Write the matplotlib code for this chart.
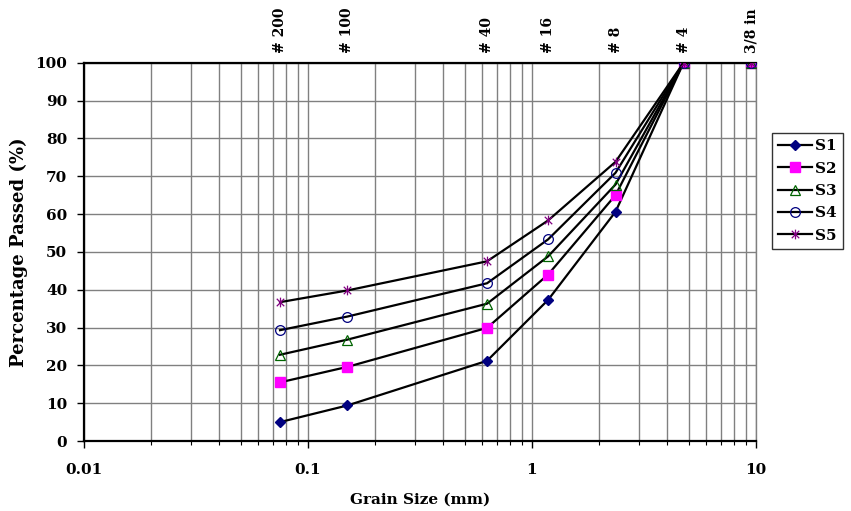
import matplotlib
matplotlib.use("Agg")
import matplotlib.pyplot as plt
from matplotlib.path import Path
from matplotlib.ticker import LogLocator, FixedLocator, NullFormatter

# Sieve sizes (mm) and labels
sieve_mm = [0.075, 0.15, 0.63, 1.18, 2.36, 4.75, 9.5]
sieve_labels = ["# 200", "# 100", "# 40", "# 16", "# 8", "# 4", "3/8 in"]

S1 = [5.0, 9.4, 21.2, 37.3, 60.6, 100, 100]
S2 = [15.5, 19.6, 29.9, 44.0, 65.0, 100, 100]
S3 = [22.8, 26.8, 36.3, 48.8, 67.8, 100, 100]
S4 = [29.3, 32.9, 41.7, 53.3, 70.9, 100, 100]
S5 = [36.7, 39.8, 47.5, 58.3, 73.8, 100, 100]
series_names = ["S1", "S2", "S3", "S4", "S5"]

y_ticks = [0, 10, 20, 30, 40, 50, 60, 70, 80, 90, 100]
x_ticks = [0.01, 0.1, 1, 10]
x_ticklabels = ["0.01", "0.1", "1", "10"]

plt.rcParams['font.family'] = ['DejaVu Serif']
plt.rcParams['font.weight'] = 'bold'

fig = plt.figure(figsize=(8.51, 5.11), dpi=100)
ax = fig.add_axes([84/851, 1-441/511, 672/851, 378.3/511])

star = Path([(-1, -1), (1, 1), (-1, 1), (1, -1), (0, -1.3), (0, 1.3)],
            [Path.MOVETO, Path.LINETO, Path.MOVETO, Path.LINETO, Path.MOVETO, Path.LINETO])

styles = [
    dict(marker='D', ms=5.5, mfc='#000080', mec='#000080'),
    dict(marker='s', ms=7, mfc='#FF00FF', mec='#FF00FF'),
    dict(marker='^', ms=7, mfc='none', mec='#006400', mew=0.9),
    dict(marker='o', ms=7, mfc='none', mec='#000080', mew=0.9),
    dict(marker=star, ms=7, mfc='none', mec='#800080', mew=0.9),
]
for data, name, st in zip([S1, S2, S3, S4, S5], series_names, styles):
    ax.plot(sieve_mm, data, color='black', lw=1.6, label=name, zorder=3, **st)

ax.set_xscale('log')
ax.set_xlim(0.01, 10)
ax.set_ylim(0, 100)
ax.set_yticks(y_ticks)
ax.set_xticks(x_ticks)
ax.set_xticklabels(x_ticklabels)
ax.xaxis.set_minor_locator(LogLocator(base=10, subs=range(2, 10)))
ax.xaxis.set_minor_formatter(NullFormatter())

ax.grid(True, which='major', axis='y', color='#808080', lw=1.0)
ax.grid(True, which='both', axis='x', color='#808080', lw=1.0)
ax.set_axisbelow(True)

for s in ['left', 'bottom', 'top']:
    ax.spines[s].set_color('black')
    ax.spines[s].set_linewidth(1.6)
ax.spines['right'].set_color('#808080')
ax.spines['right'].set_linewidth(1.0)

ax.tick_params(axis='both', which='major', length=5, width=1, direction='out',
               labelsize=11, colors='black')
ax.tick_params(axis='x', which='minor', length=3, width=0.8, direction='out')
ax.tick_params(axis='x', which='major', pad=11)
ax.tick_params(axis='y', which='major', pad=7)
for lbl in ax.get_xticklabels() + ax.get_yticklabels():
    lbl.set_fontweight('bold')

ax.set_xlabel("Grain Size (mm)", fontsize=11, fontweight='bold', labelpad=11)
ax.set_ylabel("Percentage Passed (%)", fontsize=13, fontweight='bold')
ax.yaxis.set_label_coords(-0.083, 0.5)

sec = ax.secondary_xaxis('top')
sec.set_xticks(sieve_mm)
sec.set_xticklabels(sieve_labels, rotation=90, fontsize=10, fontweight='bold')
sec.tick_params(axis='x', which='both', length=0, pad=7)
sec.xaxis.set_minor_locator(FixedLocator([]))
sec.spines['top'].set_visible(False)

leg = ax.legend(loc='upper left', bbox_to_anchor=(772/851, 1-133/511),
                bbox_transform=fig.transFigure, frameon=True, fancybox=False,
                edgecolor='black', fontsize=11, handlelength=2.2,
                borderpad=0.4, labelspacing=0.55, handletextpad=0.2,
                borderaxespad=0)
leg.get_frame().set_linewidth(1.0)
for t in leg.get_texts():
    t.set_fontweight('bold')

fig.savefig("out.png", dpi=100)
